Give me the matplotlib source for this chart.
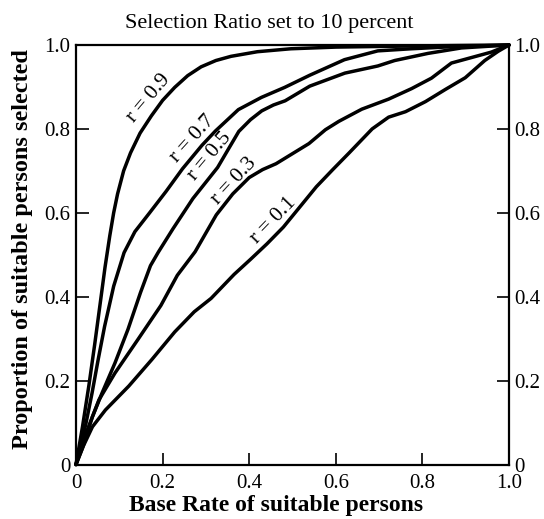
import matplotlib
matplotlib.use("Agg")
import matplotlib.pyplot as plt

plt.rcParams['font.family'] = ['Liberation Serif', 'DejaVu Serif']

# ---- data ----
title = "Selection Ratio set to 10 percent"
x_label = "Base Rate of suitable persons"
y_label = "Proportion of suitable persons selected"
tick_values = [0.0, 0.2, 0.4, 0.6, 0.8, 1.0]
tick_labels = ["0", "0.2", "0.4", "0.6", "0.8", "1.0"]

r09_x = [0, 0.015, 0.030, 0.043, 0.056, 0.067, 0.078, 0.087, 0.096, 0.110, 0.126, 0.148, 0.174,
         0.200, 0.228, 0.258, 0.289, 0.323, 0.358, 0.419, 0.496, 0.60, 0.80, 1.0]
r09_y = [0, 0.090, 0.190, 0.285, 0.385, 0.470, 0.545, 0.600, 0.645, 0.700, 0.743, 0.790, 0.831,
         0.868, 0.899, 0.927, 0.948, 0.963, 0.973, 0.984, 0.991, 0.995, 0.998, 1.0]

r07_x = [0, 0.012, 0.023, 0.037, 0.051, 0.066, 0.087, 0.111, 0.136, 0.170, 0.208, 0.246, 0.291,
         0.322, 0.375, 0.428, 0.482, 0.540, 0.620, 0.697, 0.774, 0.87, 1.0]
r07_y = [0, 0.050, 0.098, 0.170, 0.249, 0.329, 0.425, 0.505, 0.555, 0.600, 0.651, 0.705, 0.761,
         0.795, 0.846, 0.875, 0.899, 0.928, 0.965, 0.986, 0.991, 0.996, 1.0]

r05_x = [0, 0.016, 0.038, 0.060, 0.090, 0.120, 0.149, 0.172, 0.190, 0.224, 0.270, 0.327, 0.352,
         0.376, 0.403, 0.429, 0.456, 0.483, 0.540, 0.621, 0.697, 0.736, 0.813, 0.890, 1.0]
r05_y = [0, 0.042, 0.114, 0.170, 0.242, 0.322, 0.410, 0.474, 0.506, 0.562, 0.634, 0.708, 0.752,
         0.794, 0.822, 0.843, 0.857, 0.867, 0.902, 0.933, 0.950, 0.963, 0.980, 0.993, 1.0]

r03_x = [0, 0.023, 0.053, 0.090, 0.143, 0.196, 0.234, 0.275, 0.324, 0.362, 0.400, 0.431, 0.462,
         0.500, 0.538, 0.576, 0.607, 0.660, 0.722, 0.775, 0.821, 0.867, 0.913, 0.959, 1.0]
r03_y = [0, 0.074, 0.154, 0.218, 0.298, 0.379, 0.451, 0.507, 0.595, 0.645, 0.684, 0.703, 0.717,
         0.741, 0.765, 0.798, 0.818, 0.847, 0.871, 0.896, 0.921, 0.957, 0.970, 0.983, 1.0]

r01_x = [0, 0.016, 0.038, 0.068, 0.122, 0.175, 0.228, 0.273, 0.312, 0.365, 0.403, 0.441, 0.479,
         0.517, 0.555, 0.593, 0.631, 0.684, 0.722, 0.761, 0.807, 0.853, 0.899, 0.944, 0.975, 1.0]
r01_y = [0, 0.042, 0.090, 0.130, 0.187, 0.250, 0.316, 0.364, 0.396, 0.453, 0.489, 0.526, 0.566,
         0.614, 0.662, 0.703, 0.743, 0.800, 0.828, 0.841, 0.865, 0.894, 0.922, 0.963, 0.985, 1.0]

curve_names = ["r = 0.9", "r = 0.7", "r = 0.5", "r = 0.3", "r = 0.1"]
curves_x = [r09_x, r07_x, r05_x, r03_x, r01_x]
curves_y = [r09_y, r07_y, r05_y, r03_y, r01_y]

# label anchor points (data coords) and angles
label_x = [0.168, 0.269, 0.309, 0.366, 0.455]
label_y = [0.874, 0.776, 0.734, 0.675, 0.581]
label_rot = [50, 48, 50, 47, 46]

# ---- figure ----
fig = plt.figure(figsize=(5.44, 5.19), dpi=100)
ax = fig.add_axes([76 / 544, 1 - 464.5 / 519, 433 / 544, 419.5 / 519])

for cx, cy in zip(curves_x, curves_y):
    ax.plot(cx, cy, color="black", lw=2.5, solid_joinstyle="round",
            solid_capstyle="round", clip_on=False)

for name, lx, ly, rot in zip(curve_names, label_x, label_y, label_rot):
    ax.text(lx, ly, name, rotation=rot, rotation_mode="anchor",
            ha="center", va="center", fontsize=15.5)

ax.set_xlim(0, 1)
ax.set_ylim(0, 1)
ax.set_xticks(tick_values, tick_labels)
ax.set_yticks(tick_values, tick_labels)
ax.tick_params(direction="in", length=9, width=1.2, labelsize=15, pad=4,
               right=True, labelright=True, top=False, colors="black")
ax.tick_params(axis="x", pad=7)
for s in ax.spines.values():
    s.set_linewidth(1.6)

fig.text(269.5 / 544, 1 - 28 / 519, title, ha="center", va="baseline", fontsize=16)
fig.text(276 / 544, 1 - 511 / 519, x_label, ha="center", va="baseline",
         fontsize=17, fontweight="bold")
fig.text(23 / 544, 1 - 249 / 519, y_label, ha="center", va="center",
         rotation=90, fontsize=17.5, fontweight="bold")

fig.savefig("out.png", dpi=100)
